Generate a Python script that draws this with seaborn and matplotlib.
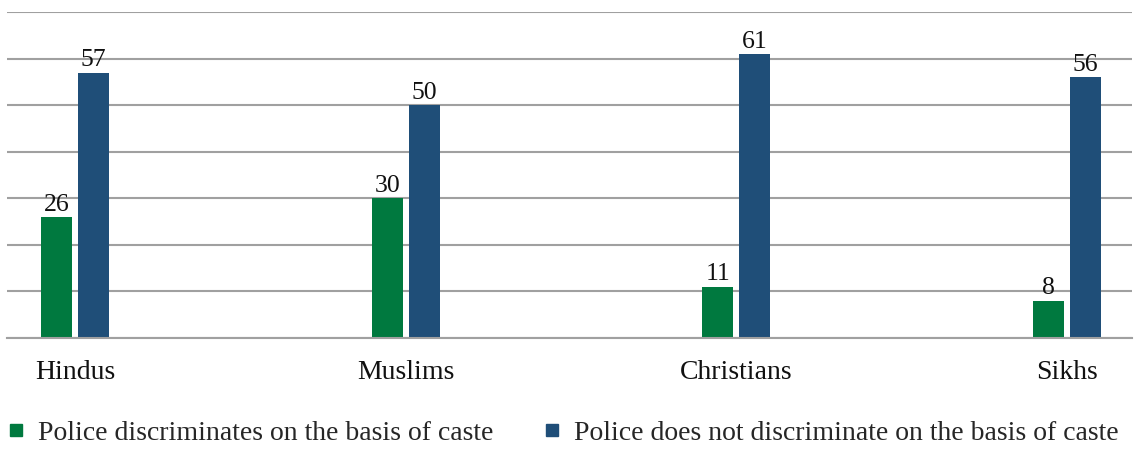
import pandas as pd
import matplotlib
matplotlib.use("Agg")
import matplotlib.pyplot as plt
from matplotlib.lines import Line2D
import seaborn as sns

# ── Data ─────────────────────────────────────────────────────────────────────
groups = ["Hindus", "Muslims", "Christians", "Sikhs"]
series = ["Police discriminates on the basis of caste",
          "Police does not discriminate on the basis of caste"]
discriminates = [26, 30, 11, 8]
not_discriminates = [57, 50, 61, 56]
colors = ["#00793F", "#1F4E78"]

df = pd.DataFrame({
    "group": groups * 2,
    "series": [series[0]] * 4 + [series[1]] * 4,
    "value": discriminates + not_discriminates,
})

sns.set_theme(style="white")
plt.rcParams["font.family"] = ["Liberation Serif", "DejaVu Serif"]
FS = 20        # category + legend text
FS_NUM = 18.5  # numbers above bars

fig = plt.figure(figsize=(11.37, 4.63), dpi=100)
ax = fig.add_axes([0.0062, 0.27, 0.9894, 0.704])

sns.barplot(data=df, x="group", y="value", hue="series", order=groups,
            hue_order=series, palette=colors, width=0.224, gap=0.16,
            saturation=1, legend=False, linewidth=0, ax=ax)

# value labels on top of each bar
for cont in ax.containers:
    ax.bar_label(cont, fmt="%d", padding=1, fontsize=FS_NUM, color="#111111")

ax.set_ylim(0, 70)
ax.set_xlim(-0.206, 3.197)
ax.set_yticks(range(0, 71, 10))
ax.set_yticklabels([])
ax.yaxis.grid(True, color="#a0a0a0", linewidth=1.5)
ax.set_axisbelow(True)
for side in ["left", "right", "top"]:
    ax.spines[side].set_visible(False)
ax.spines["bottom"].set_color("#a0a0a0")
ax.spines["bottom"].set_linewidth(1.5)
ax.tick_params(axis="x", length=0, pad=16, labelsize=FS, labelcolor="#111111")
ax.tick_params(axis="y", length=0)
ax.set_xlabel("")
ax.set_ylabel("")

# legend with small square markers
handles = [Line2D([], [], marker="s", linestyle="", markersize=8,
                  markerfacecolor=c, markeredgecolor=c) for c in colors]
fig.legend(handles, series, loc="center left", bbox_to_anchor=(0.0044, 0.065),
           ncol=2, frameon=False, fontsize=FS, handletextpad=0.4,
           columnspacing=1.7, handlelength=0.8, borderaxespad=0, borderpad=0)

fig.savefig("out.png", dpi=100)
